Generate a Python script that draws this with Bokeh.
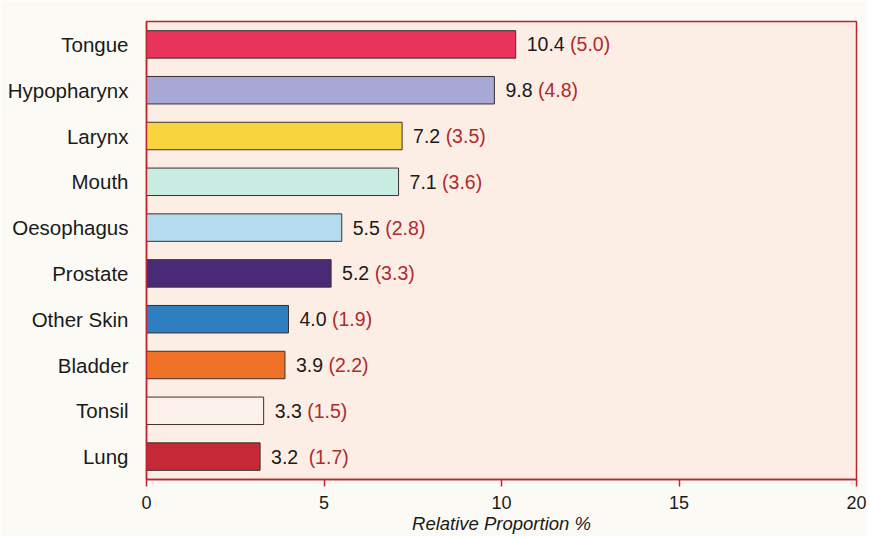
from bokeh.plotting import figure
from bokeh.models import ColumnDataSource, FactorRange, Range1d, FixedTicker
from bokeh.core.properties import value
from bokeh.embed import file_html
from bokeh.resources import INLINE

sites = ["Tongue", "Hypopharynx", "Larynx", "Mouth", "Oesophagus",
         "Prostate", "Other Skin", "Bladder", "Tonsil", "Lung"]
relative = [10.4, 9.8, 7.2, 7.1, 5.5, 5.2, 4.0, 3.9, 3.3, 3.2]
paren = [5.0, 4.8, 3.5, 3.6, 2.8, 3.3, 1.9, 2.2, 1.5, 1.7]
colors = ["#e8345a", "#a8a8d6", "#f8d43e", "#c8ebe2", "#b4dbee",
          "#4a2a76", "#2f7ec0", "#f07226", "#fbf1ea", "#c62836"]
x_ticks = [0, 5, 10, 15, 20]

FONT = "Liberation Sans"
FS = 19.5  # px
digit_w = 0.556 * FS
dot_w = 0.278 * FS
space_w = 0.278 * FS

val_txt = [f"{v:.1f}" for v in relative]
par_txt = [f"({v:.1f})" for v in paren]
val_off = [11] * len(val_txt)
par_off = [11 + sum(dot_w if c == "." else digit_w for c in s) + space_w + (5 if i == len(val_txt) - 1 else 0)
           for i, s in enumerate(val_txt)]

src = ColumnDataSource(dict(site=sites, rel=relative, col=colors,
                            vt=val_txt, pt=par_txt, vo=val_off, po=par_off))

p = figure(width=866, height=536, output_backend="svg", toolbar_location=None,
           y_range=FactorRange(factors=list(reversed(sites))),
           x_range=Range1d(0, 20))
p.min_border_left = 146
p.min_border_right = 10
p.min_border_top = 21
p.min_border_bottom = 52
p.background_fill_color = "#fdeee5"
p.border_fill_color = "#fbfaf4"
p.outline_line_color = "#c0242c"
p.outline_line_width = 1.5
p.grid.visible = False

p.hbar(y="site", right="rel", left=0, height=0.6, fill_color="col",
       line_color="#3a3030", line_width=1, source=src)

p.text(x="rel", y="site", text="vt", x_offset="vo", text_baseline="middle",
       text_align="left", text_font=value(FONT), text_font_size=f"{FS}px",
       text_color="#1a1a1a", source=src)
p.text(x="rel", y="site", text="pt", x_offset="po", text_baseline="middle",
       text_align="left", text_font=value(FONT), text_font_size=f"{FS}px",
       text_color="#b02a2e", source=src)

xa = p.xaxis[0]
xa.ticker = FixedTicker(ticks=x_ticks)
xa.axis_line_color = "#c0242c"
xa.axis_line_width = 1.5
xa.major_tick_line_color = "#c0242c"
xa.major_tick_line_width = 1.5
xa.major_tick_out = 7
xa.major_tick_in = 0
xa.minor_tick_line_color = None
xa.major_label_text_font = FONT
xa.major_label_text_font_size = "18px"
xa.major_label_text_color = "#1a1a1a"
xa.major_label_standoff = 9
xa.axis_label = "Relative Proportion %"
xa.axis_label_text_font = FONT
xa.axis_label_text_font_size = "18.5px"
xa.axis_label_text_font_style = "italic"
xa.axis_label_text_color = "#1a1a1a"
xa.axis_label_standoff = 1

ya = p.yaxis[0]
ya.axis_line_color = "#c0242c"
ya.axis_line_width = 1.5
ya.major_tick_line_color = None
ya.minor_tick_line_color = None
ya.major_label_text_font = FONT
ya.major_label_text_font_size = "20.5px"
ya.major_label_text_color = "#1a1a1a"
ya.major_label_standoff = 12

open("out.html", "w").write(file_html(p, INLINE))
